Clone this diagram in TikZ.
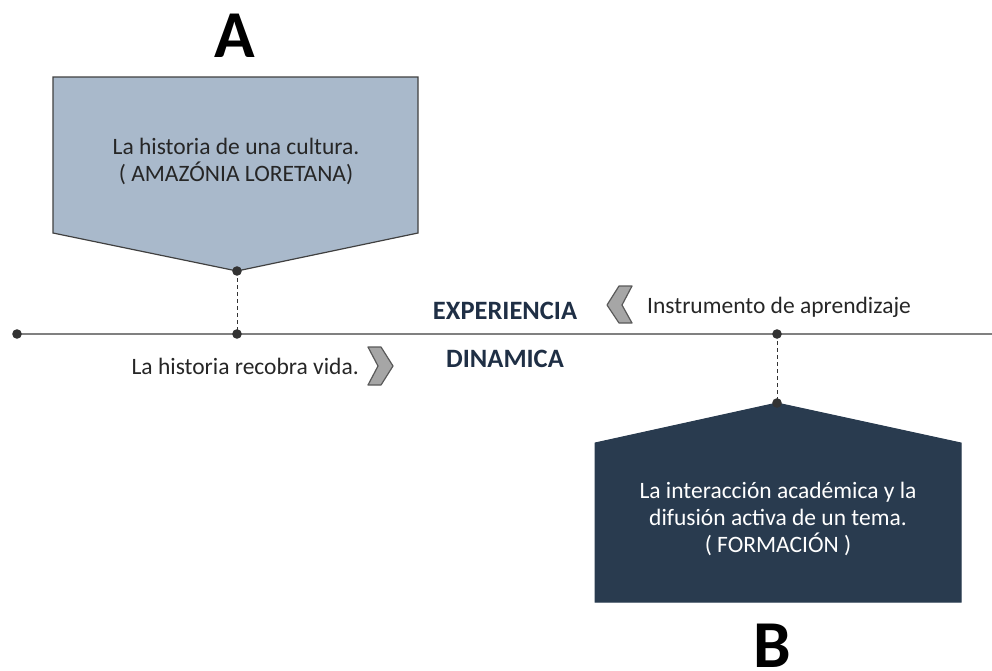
\documentclass[tikz,border=0pt]{standalone}
\usepackage{fontspec}
\setmainfont{Carlito}
\begin{document}
\begin{tikzpicture}[x=1pt,y=-1pt,
  txt/.style={font=\fontsize{23.5}{27}\selectfont, text=black!85, inner sep=0pt, align=center},
  bigl/.style={font=\fontsize{67}{70}\selectfont\bfseries, text=black, inner sep=0pt},
  head/.style={font=\fontsize{26.5}{30}\selectfont\bfseries, text=navyc, inner sep=0pt},
  chev/.style={fill=chevfill, draw=chevdraw, line width=1.2pt, line join=round}]
\definecolor{boxa}{HTML}{A9B9CB}
\definecolor{boxb}{HTML}{293B4F}
\definecolor{navyc}{HTML}{1F2F45}
\definecolor{dotgray}{HTML}{333333}
\definecolor{chevfill}{HTML}{A6A6A6}
\definecolor{chevdraw}{HTML}{595959}
\definecolor{linegray}{HTML}{808080}
\useasboundingbox (0,0) rectangle (992,670);
% box A
\coordinate (pa) at (237,271);
\draw[fill=boxa, draw=black!75, line width=1.2pt, line join=miter]
  (53,77) -- (418,77) -- (418,233) -- (pa) -- (53,233) -- cycle;
\node[txt] (ta) at (236,161) {La historia de una cultura.\\( AMAZÓNIA LORETANA)};
% box B
\coordinate (pb) at (777,403);
\draw[fill=boxb, draw=boxb, line width=1pt]
  (595,443) -- (pb) -- (961,443) -- (961,602) -- (595,602) -- cycle;
\node[txt, text=white] (tb) at (778,519) {La interacción académica y la\\difusión activa de un tema.\\( FORMACIÓN )};
% letters
\node[bigl] (la) at (235,36) {A};
\node[bigl, anchor=base] (lb) at (772,667) {B};
% main line
\coordinate (l0) at (17,334);
\coordinate (l1) at (992,334);
\coordinate (qa) at (237,334);
\coordinate (qb) at (777,334);
\draw[linegray, line width=1.6pt] (l0) -- (l1);
\draw[black!80, line width=0.9pt, dash pattern=on 4pt off 3pt] (pa) -- (qa);
\draw[black!80, line width=0.9pt, dash pattern=on 4pt off 3pt] (qb) -- (pb);
\foreach \p in {l0,qa,qb,pa,pb} \fill[dotgray] (\p) circle (4.8);
% headings
\node[head] (exp) at (505,311) {EXPERIENCIA};
\node[head] (din) at (505,359) {DINAMICA};
% chevrons
\draw[chev] (607,305) -- (619,286) -- (632,286) -- (622,305) -- (632,323) -- (619,323) -- cycle;
\draw[chev] (393,366) -- (381,347) -- (368,347) -- (378,366) -- (368,385) -- (381,385) -- cycle;
\node[txt, anchor=west] (ins) at (647,307) {Instrumento de aprendizaje};
\node[txt, anchor=east] (rec) at (359,366) {La historia recobra vida.};
\end{tikzpicture}
\end{document}
